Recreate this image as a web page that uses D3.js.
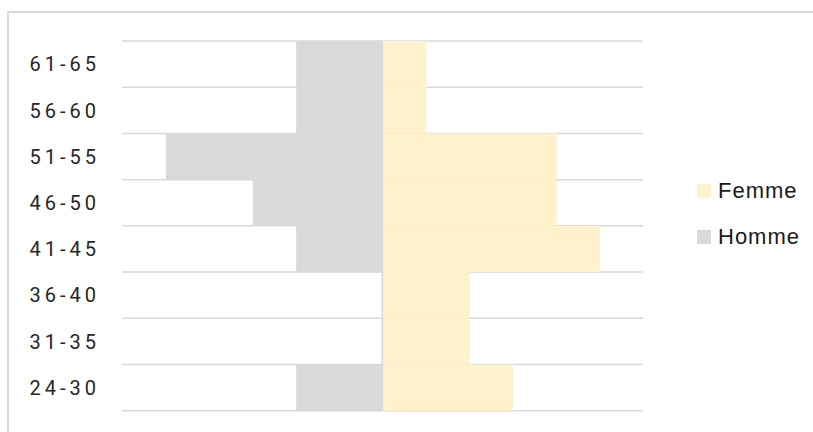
<!DOCTYPE html>
<html>
<head>
<meta charset="utf-8">
<script src="https://cdn.jsdelivr.net/npm/d3@7"></script>
<style>
  html, body { margin: 0; padding: 0; background: #fff; }
  svg { display: block; }
</style>
</head>
<body>
<svg id="chart" width="813" height="432"></svg>
<script>
// Data (bottom to top in the picture)
const categories = ["24-30", "31-35", "36-40", "41-45", "46-50", "51-55", "56-60", "61-65"];
const homme = [2, 0, 0, 2, 3, 5, 2, 2];
const femme = [3, 2, 2, 5, 4, 4, 1, 1];
const seriesNames = ["Femme", "Homme"];
const seriesColors = ["#fff2cc", "#d9d9d9"];

const svg = d3.select("#chart");

// outer chart border
svg.append("rect")
  .attr("x", 8).attr("y", 12)
  .attr("width", 830).attr("height", 440)
  .attr("fill", "none").attr("stroke", "#d9d9d9").attr("stroke-width", 2);

const x = d3.scaleLinear().domain([-6, 6]).range([122.5, 643.5]);
const y = d3.scaleBand().domain(categories.slice().reverse()).range([41, 410.7]).padding(0);

// gridlines at band boundaries
const bounds = categories.map(c => y(c)).concat([y.range()[1]]);
svg.append("g").selectAll("line").data(bounds).join("line")
  .attr("x1", x.range()[0] - 0.5).attr("x2", x.range()[1] - 0.5)
  .attr("y1", d => d).attr("y2", d => d)
  .attr("stroke", "#d9d9d9").attr("stroke-width", 1.5);

// vertical axis line at zero
svg.append("line")
  .attr("x1", x(0) - 0.5).attr("x2", x(0) - 0.5)
  .attr("y1", y.range()[0]).attr("y2", y.range()[1])
  .attr("stroke", "#d9d9d9").attr("stroke-width", 2);

const rows = categories.map((c, i) => ({ c, h: homme[i], f: femme[i] }));

// Homme bars (left)
svg.append("g").selectAll("rect").data(rows).join("rect")
  .attr("x", d => x(-d.h))
  .attr("y", d => y(d.c))
  .attr("width", d => x(0) - x(-d.h))
  .attr("height", y.bandwidth())
  .attr("fill", seriesColors[1]);

// Femme bars (right)
svg.append("g").selectAll("rect").data(rows).join("rect")
  .attr("x", x(0) + 0.5)
  .attr("y", d => y(d.c))
  .attr("width", d => Math.max(0, x(d.f) - x(0) - 0.5))
  .attr("height", y.bandwidth())
  .attr("fill", seriesColors[0]);

// category axis labels
const yAxis = d3.axisLeft(y).tickSize(0).tickPadding(0);
const gAxis = svg.append("g").attr("transform", "translate(100,0)").call(yAxis);
gAxis.select(".domain").remove();
gAxis.selectAll("text")
  .attr("font-family", "Roboto, sans-serif")
  .attr("font-size", 20)
  .attr("letter-spacing", "4px")
  .attr("fill", "#262626")
  .attr("dy", "0.36em");

// legend
const legend = svg.append("g");
const legItems = legend.selectAll("g").data(seriesNames).join("g")
  .attr("transform", (d, i) => `translate(697, ${184 + i * 46})`);
legItems.append("rect")
  .attr("width", 14).attr("height", 14)
  .attr("fill", (d, i) => seriesColors[i]);
legItems.append("text")
  .attr("x", 21).attr("y", 14)
  .attr("font-family", "'Liberation Sans', Arial, sans-serif")
  .attr("font-size", 22)
  .attr("letter-spacing", "1px")
  .attr("fill", "#1a1a1a")
  .text(d => d);
</script>
</body>
</html>
